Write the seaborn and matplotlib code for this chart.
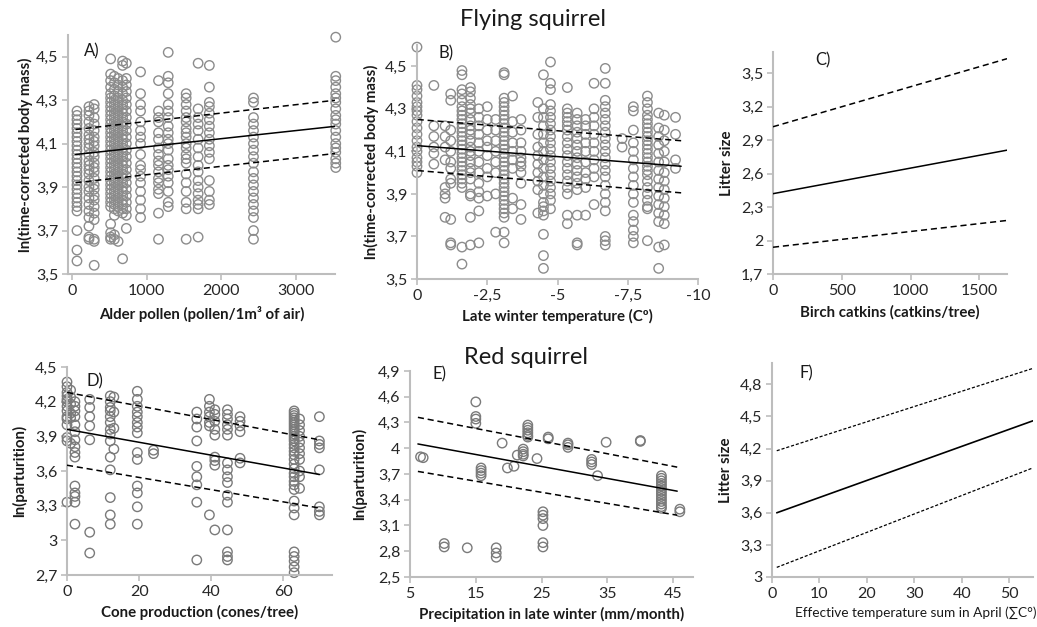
import matplotlib
matplotlib.use("Agg")
import matplotlib.pyplot as plt
import seaborn as sns
import pandas as pd

# ---------------- DATA ----------------
# Panel A: alder pollen vs ln(time-corrected body mass) (flying squirrel)
A_x = [70, 230, 300, 520, 570, 620, 680, 730, 920, 1160, 1290, 1530, 1690, 1840, 2430, 3530]
A_y = [
    [4.25, 4.23, 4.21, 4.19, 4.17, 4.15, 4.13, 4.11, 4.09, 4.07, 4.05, 4.03, 4.01, 3.99, 3.97, 3.95, 3.93, 3.91, 3.89, 3.87, 3.85, 3.83, 3.81, 3.79, 3.70, 3.61, 3.56],
    [4.27, 4.25, 4.23, 4.20, 4.17, 4.14, 4.12, 4.10, 4.08, 4.05, 4.02, 4.00, 3.98, 3.96, 3.93, 3.90, 3.88, 3.85, 3.82, 3.79, 3.76, 3.72, 3.67, 3.66],
    [4.28, 4.26, 4.22, 4.19, 4.16, 4.13, 4.11, 4.09, 4.06, 4.04, 4.01, 3.99, 3.97, 3.94, 3.91, 3.89, 3.86, 3.84, 3.81, 3.78, 3.75, 3.66, 3.65, 3.54],
    [4.49, 4.42, 4.39, 4.36, 4.33, 4.31, 4.29, 4.27, 4.25, 4.23, 4.21, 4.19, 4.17, 4.15, 4.13, 4.11, 4.09, 4.07, 4.05, 4.03, 4.01, 3.99, 3.97, 3.95, 3.93, 3.91, 3.89, 3.87, 3.85, 3.83, 3.81, 3.73, 3.69, 3.67, 3.66],
    [4.41, 4.38, 4.35, 4.32, 4.30, 4.28, 4.26, 4.24, 4.22, 4.20, 4.18, 4.16, 4.14, 4.12, 4.10, 4.08, 4.06, 4.04, 4.02, 4.00, 3.98, 3.96, 3.94, 3.92, 3.90, 3.88, 3.86, 3.84, 3.82, 3.80, 3.77, 3.68, 3.66],
    [4.40, 4.37, 4.34, 4.31, 4.29, 4.27, 4.25, 4.23, 4.21, 4.19, 4.17, 4.15, 4.13, 4.11, 4.09, 4.07, 4.05, 4.03, 4.01, 3.99, 3.97, 3.95, 3.93, 3.91, 3.89, 3.87, 3.85, 3.83, 3.81, 3.79, 3.65],
    [4.48, 4.46, 4.39, 4.36, 4.33, 4.30, 4.28, 4.26, 4.24, 4.22, 4.20, 4.18, 4.16, 4.14, 4.12, 4.10, 4.08, 4.06, 4.04, 4.02, 4.00, 3.98, 3.96, 3.94, 3.92, 3.90, 3.88, 3.86, 3.84, 3.82, 3.80, 3.78, 3.57],
    [4.47, 4.40, 4.37, 4.34, 4.31, 4.28, 4.25, 4.22, 4.19, 4.16, 4.13, 4.10, 4.07, 4.04, 4.01, 3.98, 3.95, 3.92, 3.89, 3.86, 3.83, 3.80, 3.77, 3.71],
    [4.43, 4.33, 4.28, 4.25, 4.20, 4.16, 4.13, 4.10, 4.05, 4.00, 3.98, 3.95, 3.92, 3.88, 3.84, 3.80, 3.76],
    [4.39, 4.25, 4.22, 4.20, 4.15, 4.12, 4.08, 4.05, 4.02, 4.00, 3.97, 3.94, 3.92, 3.89, 3.87, 3.78, 3.66],
    [4.52, 4.41, 4.38, 4.33, 4.28, 4.25, 4.22, 4.18, 4.15, 4.12, 4.10, 4.07, 4.03, 4.00, 3.98, 3.95, 3.92, 3.88, 3.83, 3.81],
    [4.33, 4.31, 4.28, 4.25, 4.22, 4.20, 4.17, 4.15, 4.13, 4.10, 4.08, 4.05, 4.03, 4.01, 3.96, 3.92, 3.88, 3.83, 3.80, 3.66],
    [4.47, 4.26, 4.22, 4.19, 4.16, 4.12, 4.08, 4.04, 4.00, 3.97, 3.93, 3.90, 3.87, 3.84, 3.82, 3.80, 3.67],
    [4.46, 4.36, 4.29, 4.27, 4.24, 4.21, 4.18, 4.15, 4.12, 4.09, 4.06, 4.03, 3.93, 3.88, 3.84, 3.82],
    [4.31, 4.29, 4.22, 4.19, 4.16, 4.13, 4.10, 4.07, 4.04, 4.01, 3.97, 3.94, 3.91, 3.88, 3.85, 3.82, 3.79, 3.76, 3.70, 3.66],
    [4.59, 4.41, 4.39, 4.36, 4.33, 4.31, 4.29, 4.26, 4.23, 4.21, 4.19, 4.16, 4.13, 4.10, 4.08, 4.06, 4.03, 4.01, 3.99],
]
A_line_x = [50, 3530]
A_fit = [4.05, 4.18]
A_upper = [4.165, 4.30]
A_lower = [3.92, 4.055]

# Panel B: late winter temperature vs ln(time-corrected body mass)
B_x = [0, -0.6, -1.0, -1.2, -1.6, -1.9, -2.2, -2.5, -2.8, -3.1, -3.4, -3.7, -4.3, -4.5, -4.75,
       -5.35, -5.7, -6.0, -6.3, -6.7, -7.3, -7.7, -8.2, -8.6, -8.8, -9.2]
B_y = [
    [4.59, 4.41, 4.39, 4.36, 4.33, 4.31, 4.29, 4.27, 4.24, 4.21, 4.18, 4.15, 4.12, 4.10, 4.07, 4.05, 4.03, 4.00],
    [4.41, 4.22, 4.17, 4.12, 4.09, 4.04],
    [4.22, 4.17, 4.12, 4.06, 3.93, 3.90, 3.88, 3.79],
    [4.37, 4.34, 4.20, 4.15, 4.10, 4.05, 4.02, 3.97, 3.95, 3.78, 3.67, 3.66],
    [4.48, 4.46, 4.39, 4.37, 4.34, 4.31, 4.29, 4.27, 4.25, 4.23, 4.21, 4.19, 4.17, 4.15, 4.13, 4.11, 4.09, 4.07, 4.05, 4.03, 4.01, 3.99, 3.97, 3.95, 3.93, 3.65, 3.57],
    [4.40, 4.38, 4.35, 4.32, 4.30, 4.28, 4.25, 4.22, 4.20, 4.18, 4.15, 4.12, 4.10, 4.08, 4.05, 4.02, 4.00, 3.97, 3.90, 3.89, 3.79, 3.66],
    [4.30, 4.26, 4.22, 4.18, 4.14, 4.10, 4.05, 4.00, 3.95, 3.91, 3.88, 3.82, 3.67],
    [4.31, 4.25, 4.20, 4.15, 4.12, 4.08, 4.02, 3.98, 3.89],
    [4.25, 4.20, 4.15, 4.10, 4.05, 4.00, 3.90, 3.72],
    [4.47, 4.46, 4.35, 4.33, 4.31, 4.29, 4.27, 4.25, 4.23, 4.21, 4.19, 4.17, 4.15, 4.13, 4.11, 4.09, 4.07, 4.05, 4.03, 4.01, 3.99, 3.97, 3.95, 3.93, 3.91, 3.89, 3.87, 3.85, 3.83, 3.81, 3.79, 3.72, 3.67],
    [4.36, 4.24, 4.19, 4.14, 4.10, 4.06, 4.02, 3.88, 3.83],
    [4.25, 4.20, 4.14, 4.10, 4.07, 4.05, 4.03, 4.00, 3.95, 3.85, 3.78],
    [4.33, 4.26, 4.18, 4.12, 4.08, 4.04, 4.00, 3.96, 3.92, 3.81],
    [4.46, 4.30, 4.26, 4.22, 4.18, 4.14, 4.10, 4.06, 4.02, 3.98, 3.94, 3.90, 3.86, 3.84, 3.82, 3.80, 3.71, 3.61, 3.55],
    [4.52, 4.42, 4.39, 4.32, 4.29, 4.26, 4.23, 4.20, 4.17, 4.14, 4.11, 4.08, 4.05, 4.02, 3.99, 3.96, 3.93, 3.90, 3.87, 3.83],
    [4.40, 4.30, 4.28, 4.26, 4.24, 4.22, 4.20, 4.17, 4.14, 4.11, 4.08, 4.05, 4.02, 3.99, 3.96, 3.93, 3.90, 3.80, 3.76],
    [4.28, 4.25, 4.22, 4.19, 4.16, 4.13, 4.10, 4.07, 4.04, 4.01, 3.98, 3.95, 3.92, 3.80, 3.67, 3.66],
    [4.25, 4.22, 4.18, 4.14, 4.10, 4.05, 4.00, 3.97, 3.93, 3.80],
    [4.42, 4.30, 4.26, 4.22, 4.18, 4.14, 4.10, 4.06, 4.02, 3.98, 3.85],
    [4.49, 4.42, 4.34, 4.31, 4.28, 4.25, 4.22, 4.19, 4.16, 4.13, 4.10, 4.07, 4.04, 4.01, 3.98, 3.94, 3.90, 3.86, 3.82, 3.70, 3.68, 3.66],
    [4.16, 4.12],
    [4.31, 4.29, 4.20, 4.14, 4.10, 4.06, 4.02, 3.98, 3.94, 3.90, 3.86, 3.80, 3.77, 3.73, 3.70, 3.67],
    [4.36, 4.33, 4.30, 4.27, 4.25, 4.23, 4.21, 4.19, 4.17, 4.15, 4.13, 4.11, 4.09, 4.07, 4.05, 4.03, 4.01, 3.99, 3.96, 3.93, 3.90, 3.87, 3.84, 3.83, 3.68],
    [4.28, 4.21, 4.17, 4.13, 4.09, 4.05, 4.01, 3.97, 3.93, 3.89, 3.85, 3.81, 3.77, 3.65, 3.55],
    [4.27, 4.20, 4.15, 4.10, 4.05, 4.00, 3.96, 3.92, 3.88, 3.84, 3.80, 3.76, 3.66],
    [4.26, 4.18, 4.06, 4.02],
]
B_line_x = [0, -9.4]
B_fit = [4.127, 4.03]
B_upper = [4.25, 4.15]
B_lower = [4.01, 3.905]

# Panel C: birch catkins vs litter size (model lines only)
C_line_x = [0, 1700]
C_fit = [2.42, 2.81]
C_upper = [3.02, 3.63]
C_lower = [1.94, 2.18]

# Panel D: cone production vs ln(parturition) (red squirrel)
D_x = [0, 1, 2.2, 6.3, 12, 13, 19.5, 24, 36, 39.5, 41, 44.5, 48, 63, 64.5, 70]
D_y = [
    [4.37, 4.33, 4.28, 4.25, 4.22, 4.20, 4.16, 4.12, 4.07, 4.05, 4.00, 3.89, 3.86, 3.33],
    [4.30, 4.24, 4.18, 4.10, 4.06, 3.84],
    [4.20, 4.16, 4.12, 4.07, 4.00, 3.94, 3.87, 3.81, 3.76, 3.72, 3.47, 3.41, 3.38, 3.33, 3.14],
    [4.22, 4.15, 4.07, 3.99, 3.87, 3.07, 2.89],
    [4.25, 4.20, 4.15, 4.12, 4.07, 4.02, 3.96, 3.92, 3.86, 3.72, 3.61, 3.37, 3.22, 3.14],
    [4.24, 4.11, 3.97, 3.79],
    [4.29, 4.22, 4.16, 4.11, 4.07, 4.02, 3.98, 3.93, 3.76, 3.70, 3.47, 3.41, 3.29, 3.14],
    [3.78, 3.75],
    [4.11, 4.05, 3.98, 3.86, 3.64, 3.55, 3.48, 3.33, 2.83],
    [4.22, 4.16, 4.11, 4.07, 4.02, 3.99, 3.22],
    [4.13, 4.09, 4.03, 3.96, 3.91, 3.72, 3.69, 3.65, 3.09],
    [4.13, 4.09, 4.05, 4.00, 3.96, 3.91, 3.67, 3.61, 3.55, 3.50, 3.39, 3.33, 3.09, 2.90, 2.86, 2.83],
    [4.07, 4.03, 3.99, 3.94, 3.71, 3.67],
    [4.12, 4.10, 4.08, 4.06, 4.04, 4.02, 4.00, 3.98, 3.96, 3.94, 3.92, 3.90, 3.88, 3.86, 3.83, 3.80, 3.77, 3.74, 3.70, 3.66, 3.62, 3.58, 3.55, 3.51, 3.48, 3.44, 3.34, 3.28, 3.22, 2.90, 2.86, 2.82, 2.77, 2.72],
    [4.05, 4.00, 3.95, 3.90, 3.85, 3.80, 3.75, 3.70, 3.60, 3.55, 3.45],
    [4.07, 3.86, 3.83, 3.80, 3.61, 3.29, 3.25, 3.22],
]
D_line_x = [0, 70]
D_fit = [3.96, 3.57]
D_upper = [4.28, 3.87]
D_lower = [3.65, 3.28]

# Panel E: precipitation in late winter vs ln(parturition)
E_x = [6.6, 7.0, 10.2, 13.7, 15.0, 15.8, 18.1, 19.0, 19.8, 20.8, 21.3, 22.2, 22.9, 24.3, 25.2,
       26.0, 29.0, 32.6, 33.5, 34.8, 40.0, 43.2, 46.0]
E_y = [
    [3.90], [3.89], [2.89, 2.85], [2.84], [4.54, 4.37, 4.34, 4.29], [3.77, 3.74, 3.71, 3.68],
    [2.84, 2.78, 2.73], [4.06], [3.77], [3.79], [3.92], [3.99, 3.96, 3.93, 3.91],
    [4.27, 4.24, 4.21, 4.18, 4.15, 4.13], [3.88], [3.26, 3.22, 3.18, 3.10, 2.90, 2.85],
    [4.13, 4.11], [4.06, 4.04, 4.01], [3.87, 3.84, 3.81], [3.68], [4.07], [4.09, 4.08],
    [3.68, 3.65, 3.62, 3.59, 3.56, 3.53, 3.50, 3.47, 3.44, 3.41, 3.38, 3.35, 3.32, 3.30],
    [3.29, 3.26],
]
E_line_x = [6.2, 45.6]
E_fit = [4.05, 3.50]
E_upper = [4.36, 3.78]
E_lower = [3.73, 3.22]

# Panel F: effective temperature sum vs litter size (model lines only)
F_line_x = [1, 55]
F_fit = [3.60, 4.46]
F_upper = [4.18, 4.95]
F_lower = [3.09, 4.02]

# Ticks and labels
A_xticks = [0, 1000, 2000, 3000]
A_yticks = [3.5, 3.7, 3.9, 4.1, 4.3, 4.5]
A_ylabels = ["3,5", "3,7", "3,9", "4,1", "4,3", "4,5"]
B_xticks = [0, -2.5, -5, -7.5, -10]
B_xlabels = ["0", "-2,5", "-5", "-7,5", "-10"]
C_xticks = [0, 500, 1000, 1500]
C_yticks = [1.7, 2.0, 2.3, 2.6, 2.9, 3.2, 3.5]
C_ylabels = ["1,7", "2", "2,3", "2,6", "2,9", "3,2", "3,5"]
D_xticks = [0, 20, 40, 60]
D_yticks = [2.7, 3.0, 3.3, 3.6, 3.9, 4.2, 4.5]
D_ylabels = ["2,7", "3", "3,3", "3,6", "3,9", "4,2", "4,5"]
E_xticks = [5, 15, 25, 35, 45]
E_yticks = [2.5, 2.8, 3.1, 3.4, 3.7, 4.0, 4.3, 4.6, 4.9]
E_ylabels = ["2,5", "2,8", "3,1", "3,4", "3,7", "4", "4,3", "4,6", "4,9"]
F_xticks = [0, 10, 20, 30, 40, 50]
F_yticks = [3.0, 3.3, 3.6, 3.9, 4.2, 4.5, 4.8]
F_ylabels = ["3", "3,3", "3,6", "3,9", "4,2", "4,5", "4,8"]

# ---------------- PLOT ----------------
sns.set_theme(style="white")
plt.rcParams['font.family'] = ['Lato', 'DejaVu Sans']

W, H = 1037, 627
fig = plt.figure(figsize=(W / 100, H / 100), dpi=100)


def make_ax(left, top, right, bottom):
    return fig.add_axes([left / W, 1 - bottom / H, (right - left) / W, (bottom - top) / H])


def cols_to_df(xs, ys):
    rx, ry = [], []
    for x, col in zip(xs, ys):
        for v in col:
            rx.append(x)
            ry.append(v)
    return pd.DataFrame({"x": rx, "y": ry})


def scatter(ax, xs, ys, ec="#8c8c8c"):
    df = cols_to_df(xs, ys)
    sns.scatterplot(data=df, x="x", y="y", ax=ax, marker="o", s=46,
                    facecolor="none", edgecolor=ec, linewidth=1.0, legend=False,
                    zorder=2, clip_on=False)


def lines(ax, lx, fit, up, lo, dash=(0, (4, 2.5)), lw=1.1, dlw=1.1):
    sns.lineplot(x=lx, y=fit, ax=ax, color="black", linewidth=lw, zorder=3)
    sns.lineplot(x=lx, y=up, ax=ax, color="black", linewidth=dlw, linestyle=dash, zorder=3)
    sns.lineplot(x=lx, y=lo, ax=ax, color="black", linewidth=dlw, linestyle=dash, zorder=3)


def style(ax, xlim, ylim, xticks, xlabels, yticks, ylabels, xlabel, ylabel,
          letter, letter_pos, ylab_x, xlab_y, xlab_x=0.5, xlab_bold=True, xlab_size=10.8):
    ax.set_xlim(*xlim)
    ax.set_ylim(*ylim)
    ax.set_xticks(xticks)
    ax.set_xticklabels(xlabels)
    ax.set_yticks(yticks)
    ax.set_yticklabels(ylabels)
    for s in ["top", "right"]:
        ax.spines[s].set_visible(False)
    for s in ["left", "bottom"]:
        ax.spines[s].set_color("#bdbdbd")
        ax.spines[s].set_linewidth(1.5)
    ax.tick_params(axis="both", which="major", bottom=True, left=True, direction="out",
                   length=4, width=1.2, color="#bdbdbd", labelsize=11.5, labelcolor="#262626", pad=3)
    ax.set_xlabel(xlabel, fontsize=xlab_size, fontweight="bold" if xlab_bold else "normal", color="#1a1a1a")
    ax.set_ylabel(ylabel, fontsize=10.8, fontweight="bold", color="#1a1a1a")
    ax.xaxis.set_label_coords(xlab_x, xlab_y)
    ax.yaxis.set_label_coords(ylab_x, 0.5)
    ax.text(letter_pos[0], letter_pos[1], letter, transform=ax.transAxes, fontsize=12,
            ha="left", va="center", color="#1a1a1a")
    ax.patch.set_alpha(0)


# Panel A
axA = make_ax(68, 35, 335, 274)
scatter(axA, A_x, A_y)
lines(axA, A_line_x, A_fit, A_upper, A_lower)
style(axA, (-50, 3520), (3.5, 4.6), A_xticks, [str(t) for t in A_xticks], A_yticks, A_ylabels,
      "Alder pollen (pollen/1m³ of air)", "ln(time-corrected body mass)",
      "A)", (0.06, 0.93), -0.13, -0.135)

# Panel B
axB = make_ax(417, 45, 698, 279)
scatter(axB, B_x, B_y)
lines(axB, B_line_x, B_fit, B_upper, B_lower)
style(axB, (0, -10), (3.5, 4.6), B_xticks, B_xlabels, A_yticks, A_ylabels,
      "Late winter temperature (Cº)", "ln(time-corrected body mass)",
      "B)", (0.075, 0.965), -0.135, -0.13)

# Panel C
axC = make_ax(773, 52, 1007, 274)
lines(axC, C_line_x, C_fit, C_upper, C_lower)
style(axC, (0, 1700), (1.7, 3.69), C_xticks, [str(t) for t in C_xticks], C_yticks, C_ylabels,
      "Birch catkins (catkins/tree)", "Litter size",
      "C)", (0.18, 0.963), -0.165, -0.14)

# Panel D
axD = make_ax(67, 367, 332, 575)
scatter(axD, D_x, D_y, ec="#7a7a7a")
lines(axD, D_line_x, D_fit, D_upper, D_lower)
style(axD, (0, 73.5), (2.7, 4.5), D_xticks, [str(t) for t in D_xticks], D_yticks, D_ylabels,
      "Cone production (cones/tree)", "ln(parturition)",
      "D)", (0.075, 0.93), -0.15, -0.145)

# Panel E
axE = make_ax(410, 371, 693, 577)
scatter(axE, E_x, E_y, ec="#7a7a7a")
lines(axE, E_line_x, E_fit, E_upper, E_lower)
style(axE, (5, 48), (2.5, 4.9), E_xticks, [str(t) for t in E_xticks], E_yticks, E_ylabels,
      "Precipitation in late winter (mm/month)", "ln(parturition)",
      "E)", (0.078, 0.985), -0.15, -0.145)

# Panel F
axF = make_ax(772, 363, 1033, 577)
lines(axF, F_line_x, F_fit, F_upper, F_lower, dash=(0, (2.5, 1.5)), lw=1.2, dlw=0.9)
style(axF, (0, 55), (3.0, 5.0), F_xticks, [str(t) for t in F_xticks], F_yticks, F_ylabels,
      "Effective temperature sum in April (∑C°)", "Litter size",
      "F)", (0.107, 0.953), -0.15, -0.135, xlab_x=0.55, xlab_bold=False, xlab_size=9.8)

fig.text(533 / W, 1 - 20 / H, "Flying squirrel", ha="center", va="center", fontsize=17, color="#1a1a1a")
fig.text(526 / W, 1 - 358 / H, "Red squirrel", ha="center", va="center", fontsize=17, color="#1a1a1a")

fig.savefig("out.png", dpi=100, facecolor="white")
